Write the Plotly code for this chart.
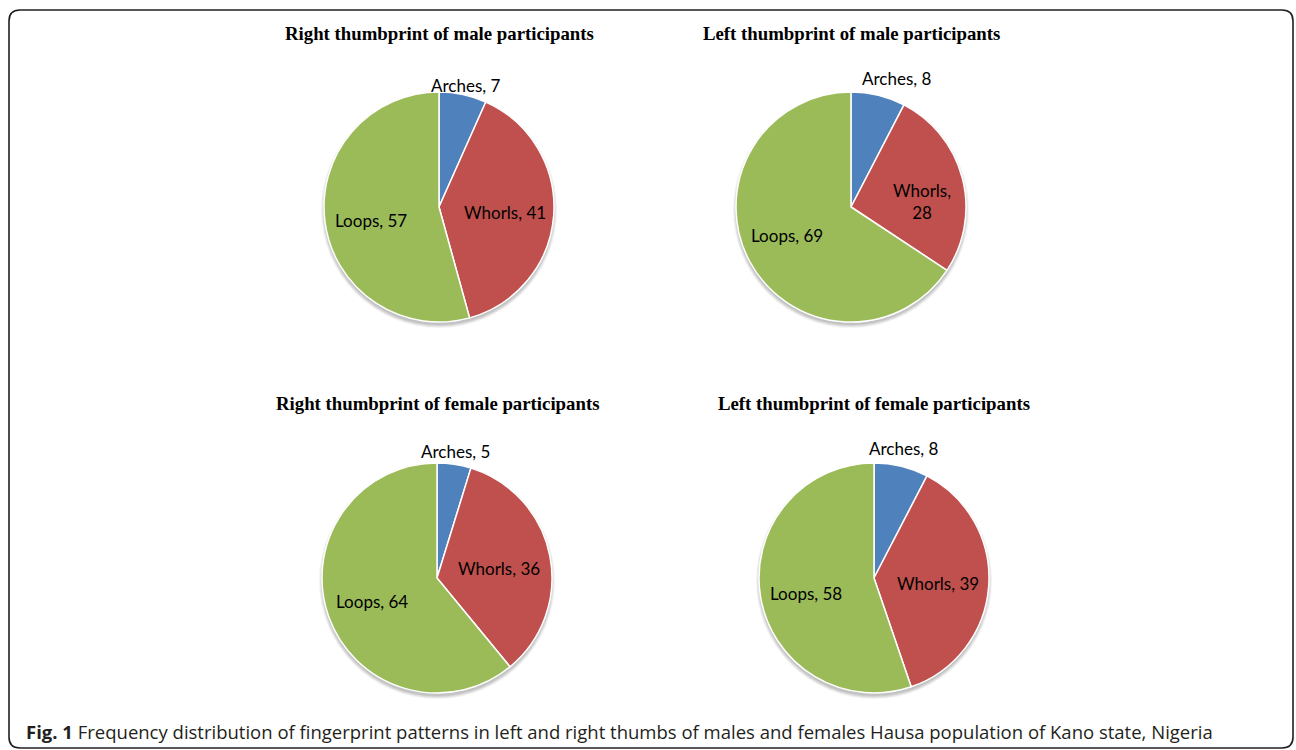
import math
import plotly.graph_objects as go

# Fingerprint pattern counts per thumb / sex
categories = ["Arches", "Whorls", "Loops"]
right_male = [7, 41, 57]
left_male = [8, 28, 69]
right_female = [5, 36, 64]
left_female = [8, 39, 58]

chart_titles = [
    "Right thumbprint of male participants",
    "Left thumbprint of male participants",
    "Right thumbprint of female participants",
    "Left thumbprint of female participants",
]
caption_bold = "Fig. 1"
caption_text = ("Frequency distribution of fingerprint patterns in left and right thumbs "
                "of males and females Hausa population of Kano state, Nigeria")

series = [right_male, left_male, right_female, left_female]
colors = ["#4F81BD", "#C0504D", "#9BBB59"]
label_pos = ["outside", "inside", "inside"]

W, H = 1296, 750
# pie centres (px) and radius
centers = [(439, 207), (851, 207), (437, 578), (874, 578)]
R = 115
# hand-adjusted label offsets (px) per panel, per category
label_nudge = [
    [(0, 2), (-3, 0), (0, 4)],
    [(16, -6), (4, 12), (-3, -4)],
    [(0, -1), (-6, 4), (0, 0)],
    [(0, -7), (-5, 0), (0, 4)],
]

LABEL_FONT = dict(family="Lato, 'Liberation Sans', sans-serif", size=17, color="#000000")
TITLE_FONT = dict(family="'Liberation Serif', 'Times New Roman', serif", size=18.8, color="#000000")


def px(x):
    return x / W


def py(y):
    return 1 - y / H


fig = go.Figure()
shapes = []
annotations = []

for vals, (cx, cy), title, nudges in zip(series, centers, chart_titles, label_nudge):
    # soft drop shadow below each pie
    for k, a in enumerate([0.05, 0.06, 0.07, 0.08]):
        rr = R + 3 - k
        shapes.append(dict(
            type="circle", xref="paper", yref="paper", layer="below",
            x0=px(cx - rr), x1=px(cx + rr),
            y0=py(cy + 3 + rr), y1=py(cy + 3 - rr),
            fillcolor=f"rgba(0,0,0,{a})", line=dict(width=0),
        ))

    fig.add_trace(go.Pie(
        labels=categories, values=vals, sort=False, direction="clockwise",
        rotation=0, textinfo="none", hoverinfo="label+value",
        marker=dict(colors=colors, line=dict(color="white", width=1.5)),
        domain=dict(x=[px(cx - R), px(cx + R)], y=[py(cy + R), py(cy - R)]),
        showlegend=False,
    ))

    # data labels placed along each slice's mid-angle
    total = sum(vals)
    start = 0.0
    for cat, v, pos, (ndx, ndy) in zip(categories, vals, label_pos, nudges):
        sweep = 360.0 * v / total
        mid = math.radians(start + sweep / 2)
        start += sweep
        if pos == "inside":
            d = 0.6 * R
            sep = "<br>" if sweep < 100 else " "
            text = f"{cat},{sep}{v}"
        else:
            d = 1.1 * R
            text = f"{cat}, {v}"
        lx = cx + d * math.sin(mid) + ndx
        ly = cy - d * math.cos(mid) + ndy
        annotations.append(dict(
            x=px(lx), y=py(ly), xref="paper", yref="paper", text=text,
            showarrow=False, xanchor="center", yanchor="middle",
            font=LABEL_FONT, align="center",
        ))

    annotations.append(dict(
        x=px(cx), y=py(cy - 174), xref="paper", yref="paper",
        text=f"<b>{title}</b>", showarrow=False, xanchor="center", yanchor="middle",
        font=TITLE_FONT,
    ))

# caption under the panel
annotations.append(dict(
    x=px(24), y=py(731), xref="paper", yref="paper",
    text=f"<b>{caption_bold}</b> {caption_text}", showarrow=False,
    xanchor="left", yanchor="middle",
    font=dict(family="'Open Sans', sans-serif", size=18.5, color="#231F20"),
))

# rounded frame around the figure
x0, x1, y0, y1, rc = 9, 1293, 10, 748, 11
path = (
    f"M {px(x0 + rc)} {py(y0)} L {px(x1 - rc)} {py(y0)} "
    f"Q {px(x1)} {py(y0)} {px(x1)} {py(y0 + rc)} "
    f"L {px(x1)} {py(y1 - rc)} Q {px(x1)} {py(y1)} {px(x1 - rc)} {py(y1)} "
    f"L {px(x0 + rc)} {py(y1)} Q {px(x0)} {py(y1)} {px(x0)} {py(y1 - rc)} "
    f"L {px(x0)} {py(y0 + rc)} Q {px(x0)} {py(y0)} {px(x0 + rc)} {py(y0)} Z"
)
shapes.append(dict(type="path", xref="paper", yref="paper", path=path,
                   line=dict(color="#231F20", width=1.6), layer="above"))

fig.update_layout(
    width=W, height=H, margin=dict(l=0, r=0, t=0, b=0),
    paper_bgcolor="white", plot_bgcolor="white",
    shapes=shapes, annotations=annotations,
)

fig.write_html("out.html")
